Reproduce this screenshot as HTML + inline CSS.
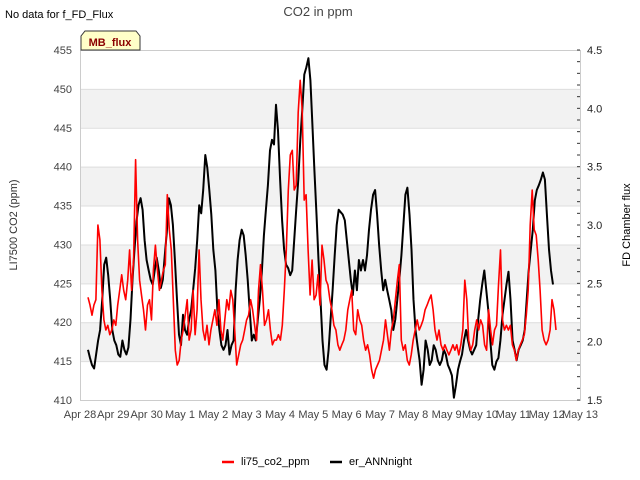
<!DOCTYPE html>
<html><head><meta charset="utf-8"><style>
body{margin:0;background:#fff;}
svg{display:block;font-family:"Liberation Sans","DejaVu Sans",sans-serif;}
</style></head><body>
<svg id="chart" width="640" height="480" viewBox="0 0 640 480">
<text x="5" y="18" font-size="11" fill="#000">No data for f_FD_Flux</text>
<text x="318" y="16" font-size="13" fill="#444" text-anchor="middle">CO2 in ppm</text>
<g id="bands"></g>
<g id="grid"></g>
<g id="series"></g>
<rect x="80.5" y="50.5" width="500" height="350" fill="none" stroke="#ccc"/>
<g id="laxis"></g>
<g id="raxis"></g>
<g id="xaxis"></g>
<path d="M81,50 L81,36 L85,31 L136,31 L140,36 L140,50 Z" fill="#ffffc8" stroke="#333" stroke-width="1"/>
<text x="110" y="46" font-size="11" font-weight="bold" fill="#8b0000" text-anchor="middle">MB_flux</text>
<text transform="translate(17,225) rotate(-90)" font-size="11" fill="#333" text-anchor="middle">LI7500 CO2 (ppm)</text>
<text transform="translate(630,225) rotate(-90)" font-size="11" fill="#000" text-anchor="middle">FD Chamber flux</text>
<g>
<line x1="222" y1="462" x2="234" y2="462" stroke="#f00" stroke-width="2.5"/>
<text x="241" y="465" font-size="11" fill="#000">li75_co2_ppm</text>
<line x1="330" y1="462" x2="342" y2="462" stroke="#000" stroke-width="2.5"/>
<text x="349" y="465" font-size="11" fill="#000">er_ANNnight</text>
</g>
</svg>
<script>
const xLabels=["Apr 28","Apr 29","Apr 30","May 1","May 2","May 3","May 4","May 5","May 6","May 7","May 8","May 9","May 10","May 11","May 12","May 13"];
const leftTicks=[410,415,420,425,430,435,440,445,450,455];
const rightTicks=[1.5,2.0,2.5,3.0,3.5,4.0,4.5];
const redStartDay=0.24, redEndDay=14.28;
const blackStartDay=0.24, blackEndDay=14.19;
const redValues=[423.2,422.2,420.9,422.2,422.9,432.5,430.6,424.1,420.3,419.0,419.6,418.4,419.0,420.3,419.6,422.2,424.1,426.1,424.1,422.9,425.4,429.3,424.1,428.0,440.9,430.6,425.4,423.5,421.6,419.0,422.2,422.9,420.3,426.7,429.9,426.7,424.1,425.4,426.7,427.4,436.4,431.9,429.3,422.9,416.4,414.5,415.1,417.7,419.0,420.9,422.9,417.7,419.0,424.1,418.4,421.6,429.3,422.9,419.0,417.7,419.6,417.1,419.0,420.3,421.6,419.6,422.9,419.0,417.7,420.3,422.9,421.6,424.1,422.9,419.0,414.5,415.8,417.1,417.7,419.0,420.3,420.9,422.9,421.6,419.6,417.7,424.1,427.4,424.1,419.6,420.3,421.6,419.0,417.1,417.7,417.7,418.4,417.7,419.6,424.1,429.3,437.0,441.5,442.1,437.0,437.6,447.0,451.1,447.3,435.7,436.4,429.3,423.5,428.0,422.9,423.5,426.1,422.2,429.9,428.0,425.4,424.8,422.9,421.6,419.6,419.0,417.1,416.4,417.1,417.7,419.0,421.6,422.9,424.1,419.0,418.4,421.6,420.3,419.6,417.7,416.4,417.1,415.8,413.9,412.8,413.9,414.5,415.1,416.4,417.7,420.3,418.4,416.4,419.0,420.3,422.9,425.4,427.4,417.7,416.4,417.1,415.1,414.5,415.8,417.7,419.0,420.3,419.0,419.6,420.3,421.6,422.2,422.9,423.5,421.6,419.0,417.7,419.0,417.1,416.4,417.1,416.4,415.8,416.4,417.1,416.4,417.1,415.8,417.1,419.0,425.4,422.9,417.7,416.4,417.1,419.0,420.3,419.0,420.3,419.6,417.1,416.4,421.6,419.0,417.1,419.0,419.6,424.8,429.3,420.3,419.0,419.6,419.0,419.6,417.1,416.4,415.1,416.4,417.1,417.7,418.4,420.9,424.1,432.5,437.0,431.9,431.2,428.0,424.1,419.0,417.7,417.1,417.7,419.0,422.9,421.6,419.0];
const blackValues=[1.93,1.86,1.80,1.77,1.89,2.01,2.10,2.36,2.66,2.72,2.57,2.36,2.10,2.01,1.97,1.89,1.87,2.01,1.93,1.89,1.95,2.19,2.53,2.79,3.03,3.17,3.23,3.13,2.87,2.70,2.61,2.53,2.49,2.61,2.72,2.61,2.46,2.53,2.74,2.94,3.23,3.17,3.00,2.70,2.36,2.06,1.97,2.23,2.10,2.06,2.19,2.27,2.44,2.63,2.87,3.17,3.10,3.30,3.60,3.49,3.30,3.09,2.79,2.61,2.27,2.10,1.97,1.93,1.97,2.10,1.89,1.97,2.01,2.44,2.70,2.87,2.96,2.91,2.74,2.53,2.27,2.01,2.06,2.01,2.19,2.36,2.61,2.91,3.13,3.34,3.64,3.73,3.69,4.03,3.81,3.39,3.04,2.79,2.66,2.63,2.57,2.61,2.87,3.13,3.39,3.73,3.99,4.29,4.35,4.43,4.24,3.86,3.47,3.09,2.70,2.36,2.01,1.80,1.76,1.93,2.19,2.44,2.74,3.00,3.13,3.11,3.09,3.04,2.87,2.70,2.53,2.40,2.61,2.44,2.70,2.61,2.70,2.61,2.74,2.96,3.13,3.26,3.30,3.09,2.83,2.61,2.44,2.53,2.44,2.36,2.27,2.10,2.19,2.36,2.53,2.74,3.00,3.26,3.32,3.09,2.79,2.36,2.10,1.97,1.84,1.63,1.76,2.01,1.93,1.80,1.84,1.97,1.93,1.84,1.80,1.84,1.93,1.89,1.80,1.76,1.71,1.52,1.63,1.76,1.83,1.89,2.01,2.10,2.01,1.93,1.89,1.93,1.97,2.19,2.36,2.49,2.61,2.44,2.27,2.01,1.80,1.76,1.83,1.86,2.01,2.23,2.36,2.49,2.60,2.36,2.01,1.93,1.84,1.93,1.97,2.01,2.10,2.36,2.61,2.79,2.96,3.21,3.30,3.34,3.39,3.45,3.39,3.09,2.79,2.61,2.49];

const PL=80,PR=580,PT=50,PB=400;
const NS="http://www.w3.org/2000/svg";
const xScale=d=>PL+(PR-PL)*d/15;
const yL=v=>PB-(PB-PT)*(v-410)/45;
const yR=v=>PB-(PB-PT)*(v-1.5)/3;
function mk(tag,attrs,parent){const e=document.createElementNS(NS,tag);for(const k in attrs)e.setAttribute(k,attrs[k]);parent.appendChild(e);return e;}
const bands=document.getElementById('bands'),grid=document.getElementById('grid');
for(let v=415;v<450;v+=10){
  const r=mk('rect',{x:PL,y:yL(v+5),width:PR-PL,height:yL(v)-yL(v+5),fill:'#f2f2f2'},bands);
  
  
}
const la=document.getElementById('laxis');
leftTicks.forEach(v=>{
  const l=mk('line',{x1:PL,x2:PR,y1:yL(v)+0.5,y2:yL(v)+0.5,stroke:'#ddd'},grid);
  
  
  const t=mk('text',{x:72,y:yL(v)+4,'font-size':11,fill:'#444','text-anchor':'end'},la);
  t.textContent=v;
  
  
});
const ra=document.getElementById('raxis');
for(let i=0;i<=30;i++){
  const v=1.5+i*0.1;
  const tk=mk('line',{x1:577,x2:580,y1:yR(v),y2:yR(v),stroke:'#333'},ra);
  
  
}
rightTicks.forEach(v=>{
  const t=mk('text',{x:587,y:yR(v)+4,'font-size':11,fill:'#222'},ra);
  t.textContent=v.toFixed(1);
  
  
});
const xa=document.getElementById('xaxis');
xLabels.forEach((s,i)=>{
  const t=mk('text',{x:xScale(i),y:418,'font-size':11,fill:'#444','text-anchor':'middle'},xa);
  t.textContent=s;
  
  
});
function pathFor(vals,t0,t1,ys){
  const n=vals.length;
  return vals.map((v,i)=>(i?'L':'M')+xScale(t0+(t1-t0)*i/(n-1)).toFixed(1)+','+ys(v).toFixed(1)).join(' ');
}
const sg=document.getElementById('series');
const bp=mk('path',{d:pathFor(blackValues,blackStartDay,blackEndDay,yR),fill:'none',stroke:'#000','stroke-width':2,'stroke-linejoin':'round'},sg);


const rp=mk('path',{d:pathFor(redValues,redStartDay,redEndDay,yL),fill:'none',stroke:'#f00','stroke-width':1.6,'stroke-linejoin':'round'},sg);


</script>
</body></html>
